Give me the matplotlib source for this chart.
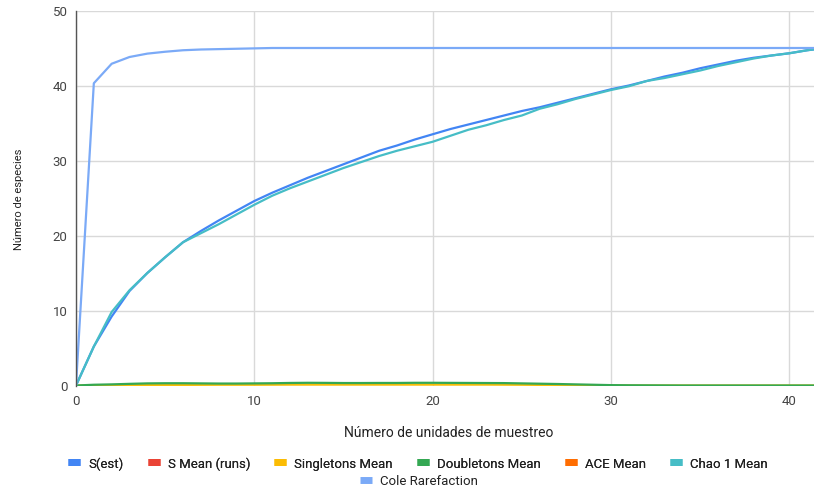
import matplotlib
matplotlib.use("Agg")
import matplotlib.pyplot as plt
from matplotlib.lines import Line2D
import numpy as np

plt.rcParams['font.family'] = ['Roboto', 'DejaVu Sans']

samples = list(range(0, 43))

s_est = [0, 5.2, 9.2, 12.6, 15.0, 17.1, 19.1, 20.6, 22.0, 23.3, 24.6,
         25.7, 26.7, 27.7, 28.6, 29.5, 30.4, 31.3, 32.0, 32.8, 33.5,
         34.2, 34.8, 35.4, 36.0, 36.6, 37.1, 37.7, 38.3, 38.9, 39.5,
         40.0, 40.6, 41.2, 41.7, 42.3, 42.8, 43.3, 43.7, 44.0, 44.3,
         44.7, 45.0]
s_mean_runs = [np.nan] * len(samples)
singletons = [0, 0.02, 0.03, 0.05, 0.06, 0.07, 0.08, 0.09, 0.1, 0.1, 0.1,
              0.11, 0.12, 0.12, 0.12, 0.12, 0.12, 0.12, 0.12, 0.12, 0.12,
              0.12, 0.12, 0.12, 0.11, 0.1, 0.08, 0.06, 0.04, 0.02, 0.01,
              0, 0, 0, 0, 0, 0, 0, 0, 0, 0, 0, 0]
doubletons = [0, 0.1, 0.15, 0.22, 0.28, 0.3, 0.3, 0.28, 0.26, 0.26, 0.28,
              0.3, 0.34, 0.36, 0.35, 0.33, 0.33, 0.34, 0.34, 0.36, 0.36,
              0.35, 0.34, 0.33, 0.32, 0.28, 0.24, 0.2, 0.15, 0.1, 0.05,
              0.03, 0.02, 0.01, 0, 0, 0, 0, 0, 0, 0, 0, 0]
ace_mean = [np.nan] * len(samples)
chao1 = [0, 5.2, 9.8, 12.7, 15.0, 17.1, 19.1, 20.3, 21.5, 22.8, 24.1,
         25.3, 26.3, 27.2, 28.1, 29.0, 29.8, 30.6, 31.3, 31.9, 32.5,
         33.3, 34.1, 34.7, 35.4, 36.0, 36.9, 37.5, 38.2, 38.8, 39.4,
         39.9, 40.6, 41.0, 41.5, 42.0, 42.6, 43.1, 43.6, 44.0, 44.3,
         44.7, 45.0]
cole = [0, 40.3, 42.9, 43.8, 44.25, 44.5, 44.7, 44.8, 44.85, 44.9, 44.95,
        45, 45, 45, 45, 45, 45, 45, 45, 45, 45,
        45, 45, 45, 45, 45, 45, 45, 45, 45, 45,
        45, 45, 45, 45, 45, 45, 45, 45, 45, 45,
        45, 45]

series = [
    ("S(est)", s_est, "#4285F4"),
    ("S Mean (runs)", s_mean_runs, "#EA4335"),
    ("Singletons Mean", singletons, "#FBBC04"),
    ("Doubletons Mean", doubletons, "#34A853"),
    ("ACE Mean", ace_mean, "#FF6D01"),
    ("Chao 1 Mean", chao1, "#46BDC6"),
    ("Cole Rarefaction", cole, "#7BAAF7"),
]

fig = plt.figure(figsize=(8.14, 4.89), dpi=100)
ax = fig.add_axes([76/814, 1 - 386.5/489, (814 - 76)/814, (386.5 - 11.5)/489])

for name, vals, col in series:
    ax.plot(samples, vals, color=col, lw=1.6, label=name, solid_capstyle='round')

ax.set_xlim(0, 41.38)
ax.set_ylim(0, 50)
ax.set_xticks([0, 10, 20, 30, 40])
ax.set_yticks([0, 10, 20, 30, 40, 50])
ax.grid(True, color="#d9d9d9", lw=1)
ax.set_axisbelow(True)
for s in ["top", "right", "bottom"]:
    ax.spines[s].set_visible(False)
ax.spines["left"].set_color("#555555")
ax.spines["left"].set_linewidth(1)
ax.tick_params(length=0, labelsize=9.5, labelcolor="#444444", pad=6)

ax.set_ylabel("Número de especies", fontsize=8, color="#222222", labelpad=21)
fig.text(449/814, 1 - 433/489, "Número de unidades de muestreo", ha="center",
         va="center", fontsize=10, color="#222222")

hs = [Line2D([0], [0], color=c, lw=5, solid_capstyle='butt') for _, _, c in series]
names = [n for n, _, _ in series]
common = dict(frameon=False, fontsize=9.5, handlelength=0.9, handletextpad=0.6,
              columnspacing=1.85, loc="center")
leg1 = fig.legend(hs[:6], names[:6], ncol=6,
                  bbox_to_anchor=(418/814, 1 - 464/489), **common)
leg2 = fig.legend(hs[6:], names[6:], ncol=1,
                  bbox_to_anchor=(419/814, 1 - 482/489), **common)
fig.add_artist(leg1)
for lg in (leg1, leg2):
    for t in lg.get_texts():
        t.set_color("#222222")

fig.savefig("out.png", dpi=100)
